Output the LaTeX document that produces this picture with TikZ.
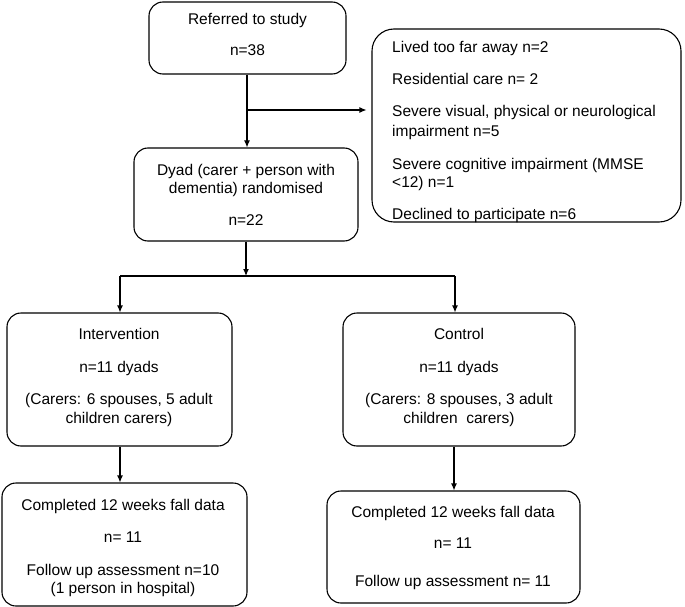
\documentclass[tikz,border=0pt]{standalone}
\usepackage{fontspec}
\setmainfont{Liberation Sans}
\usetikzlibrary{arrows.meta}
\begin{document}
\begin{tikzpicture}[x=1pt,y=-1pt,
  box/.style={draw, line width=1.1pt, rounded corners=14pt, inner sep=0pt},
  bigbox/.style={box, rounded corners=22pt},
  txt/.style={anchor=base, inner sep=0pt, font=\fontsize{15.5}{18.5}\selectfont},
  ltxt/.style={txt, anchor=base west},
  ln/.style={line width=1.1pt},
  arr/.style={ln, -{Latex[length=7pt,width=6pt]}}]
\fill[white] (0,0) rectangle (685,607);
\useasboundingbox (0,0) rectangle (685,607);

% boxes
\node[box, minimum width=197pt, minimum height=72pt] (ref) at (247.5,38) {};
\node[bigbox, minimum width=309pt, minimum height=193pt] (excl) at (526.5,125.5) {};
\node[box, minimum width=224pt, minimum height=93pt] (dyad) at (246,194.5) {};
\node[box, minimum width=225pt, minimum height=133pt] (int) at (119.5,379.5) {};
\node[box, minimum width=232pt, minimum height=133pt] (ctl) at (459,379.5) {};
\node[box, minimum width=245pt, minimum height=123pt] (int2) at (124.5,544.5) {};
\node[box, minimum width=253pt, minimum height=112pt] (ctl2) at (453.5,547) {};

% texts
\node[txt] (r1) at (247.5,25) {Referred to study};
\node[txt] (r2) at (247.5,56) {n=38};

\node[ltxt] (e1) at (392,53) {Lived too far away n=2};
\node[ltxt] (e2) at (392,85) {Residential care n= 2};
\node[ltxt] (e3) at (392,117) {Severe visual, physical or neurological};
\node[ltxt] (e4) at (392,136) {impairment n=5};
\node[ltxt] (e5) at (392,169) {Severe cognitive impairment (MMSE};
\node[ltxt] (e6) at (392,187) {<12) n=1};
\node[ltxt] (e7) at (392,219) {Declined to participate n=6};

\node[txt] (d1) at (246,175) {Dyad (carer + person with};
\node[txt] (d2) at (246,193) {dementia) randomised};
\node[txt] (d3) at (246,225) {n=22};

\node[txt] (i1) at (119,339) {Intervention};
\node[txt] (i2) at (119,372) {n=11 dyads};
\node[txt] (i3) at (119,404) {(Carers: 6 spouses, 5 adult};
\node[txt] (i4) at (119,423) {children carers)};

\node[txt] (c1) at (459,339) {Control};
\node[txt] (c2) at (459,372) {n=11 dyads};
\node[txt] (c3) at (459,404) {(Carers: 8 spouses, 3 adult};
\node[txt] (c4) at (459,423) {children\ \ carers)};

\node[txt] (f1) at (123,510) {Completed 12 weeks fall data};
\node[txt] (f2) at (123,542) {n= 11};
\node[txt] (f3) at (123,575) {Follow up assessment n=10};
\node[txt] (f4) at (123,593) {(1 person in hospital)};

\node[txt] (g1) at (453,517) {Completed 12 weeks fall data};
\node[txt] (g2) at (453,548) {n= 11};
\node[txt] (g3) at (453,586) {Follow up assessment n= 11};

% junctions
\coordinate (j1) at (247,110);
\coordinate (j2) at (246,276);
\coordinate (jl) at (120,276);
\coordinate (jr) at (455,276);

% connectors
\draw[arr] (ref.south -| j1) -- (dyad.north -| j1);
\draw[arr] (j1) -- ([xshift=-5pt]excl.west |- j1);
\draw[arr] (dyad.south -| j2) -- (j2);
\draw[ln] (jl) -- (jr);
\draw[arr] (jl) -- (int.north -| jl);
\draw[arr] (jr) -- (ctl.north -| jr);
\draw[arr] (int.south -| jl) -- (int2.north -| jl);
\draw[arr] (ctl.south -| 454,0) -- (ctl2.north -| 454,0);
\end{tikzpicture}
\end{document}
